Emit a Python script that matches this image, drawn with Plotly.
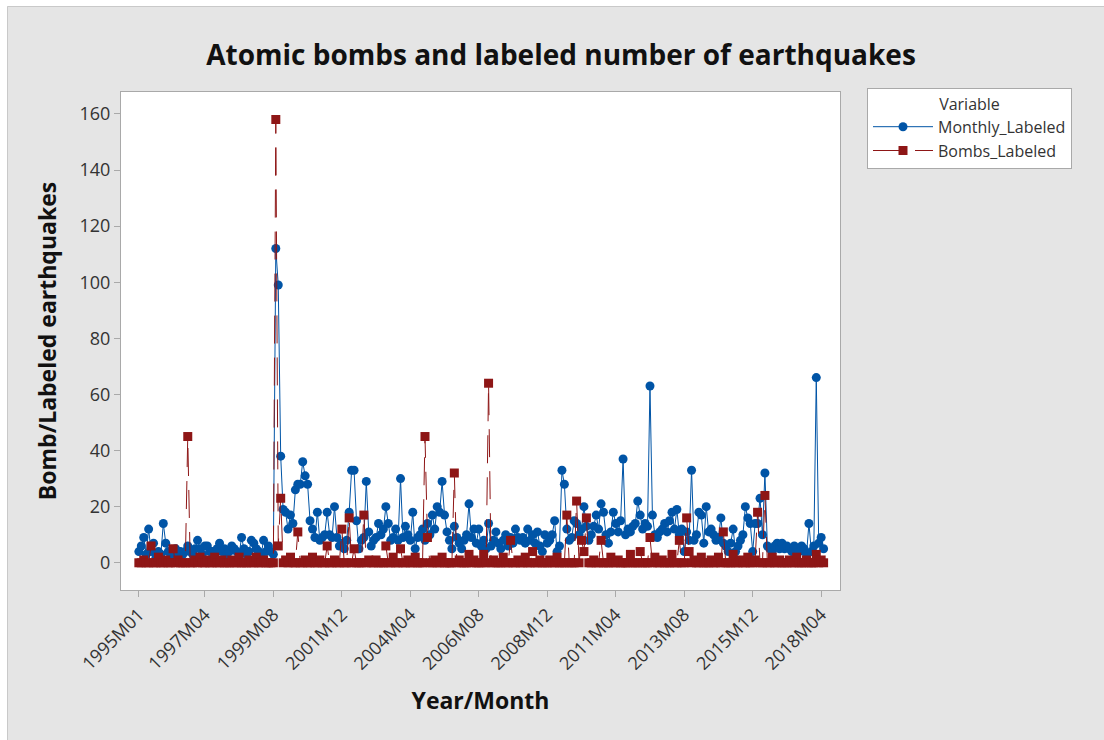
import plotly.graph_objects as go

# Month labels, 1995M01 .. 2018M05
months = [f"{y}M{m:02d}" for y in range(1995, 2019) for m in range(1, 13)][:281]

# Labeled earthquakes per month (one row per year)
monthly_labeled = [
    4, 6, 9, 3, 12, 4, 7, 2, 4, 3, 14, 7,            # 1995
    4, 2, 3, 5, 2, 4, 3, 4, 6, 4, 3, 5,              # 1996
    8, 5, 3, 6, 6, 4, 4, 3, 5, 7, 4, 5,              # 1997
    3, 4, 6, 5, 4, 3, 9, 5, 3, 4, 8, 7,              # 1998
    5, 4, 3, 8, 4, 6, 4, 3, 112, 99, 38, 19,         # 1999
    18, 12, 17, 14, 26, 28, 28, 36, 31, 28, 15, 12,  # 2000
    9, 18, 8, 9, 10, 18, 10, 9, 20, 9, 6, 7,         # 2001
    5, 8, 18, 33, 33, 15, 5, 8, 9, 29, 11, 6,        # 2002
    8, 9, 14, 10, 12, 20, 14, 8, 9, 12, 8, 30,       # 2003
    9, 13, 10, 8, 18, 5, 9, 10, 12, 8, 14, 10,       # 2004
    17, 12, 20, 18, 29, 17, 11, 8, 5, 13, 9, 7,      # 2005
    5, 8, 10, 21, 9, 12, 7, 12, 6, 8, 5, 14,         # 2006
    6, 8, 11, 7, 5, 8, 10, 6, 9, 7, 12, 9,           # 2007
    8, 9, 7, 12, 8, 10, 7, 11, 6, 4, 10, 7,          # 2008
    8, 10, 15, 4, 6, 33, 28, 12, 8, 9, 15, 14,       # 2009
    10, 12, 20, 13, 8, 10, 13, 17, 12, 21, 18, 10,   # 2010
    7, 11, 18, 14, 11, 15, 37, 10, 12, 11, 13, 14,   # 2011
    22, 17, 12, 14, 13, 63, 17, 10, 9, 11, 12, 14,   # 2012
    11, 15, 18, 12, 19, 10, 12, 4, 11, 8, 33, 8,     # 2013
    10, 18, 17, 7, 20, 11, 12, 10, 8, 9, 16, 7,      # 2014
    6, 4, 7, 12, 4, 6, 8, 10, 20, 16, 14, 4,         # 2015
    14, 14, 23, 10, 32, 6, 5, 4, 6, 7, 5, 7,         # 2016
    5, 6, 5, 4, 6, 5, 4, 6, 5, 3, 14, 4,             # 2017
    6, 66, 7, 9, 5,                                  # 2018
]

# Labeled atomic bomb events per month
bombs_labeled = [
    0, 0, 1, 0, 0, 6, 0, 0, 2, 0, 0, 1,              # 1995
    0, 0, 5, 0, 1, 0, 0, 0, 45, 0, 0, 1,             # 1996
    0, 2, 0, 0, 1, 0, 0, 2, 0, 0, 1, 0,              # 1997
    0, 0, 1, 0, 0, 2, 0, 0, 0, 1, 0, 0,              # 1998
    2, 0, 0, 1, 0, 0, 0, 0, 158, 6, 23, 0,           # 1999
    1, 0, 2, 0, 0, 11, 0, 0, 1, 0, 0, 2,             # 2000
    0, 0, 1, 0, 0, 6, 0, 0, 1, 0, 0, 12,             # 2001
    0, 0, 16, 0, 5, 0, 0, 0, 17, 0, 1, 0,            # 2002
    0, 1, 0, 0, 0, 6, 0, 0, 2, 0, 0, 5,              # 2003
    0, 0, 1, 0, 0, 2, 0, 0, 0, 45, 9, 0,             # 2004
    0, 1, 0, 0, 2, 0, 0, 0, 0, 32, 0, 1,             # 2005
    0, 0, 0, 3, 0, 1, 0, 0, 0, 3, 0, 64,             # 2006
    0, 1, 0, 0, 0, 2, 0, 0, 8, 0, 0, 1,              # 2007
    0, 0, 2, 0, 0, 4, 0, 0, 1, 0, 0, 0,              # 2008
    1, 0, 0, 2, 0, 0, 0, 17, 0, 0, 0, 22,            # 2009
    0, 8, 4, 16, 0, 0, 1, 0, 0, 8, 0, 0,             # 2010
    0, 2, 0, 0, 1, 0, 0, 0, 0, 3, 0, 0,              # 2011
    0, 4, 0, 0, 0, 9, 0, 2, 0, 0, 1, 0,              # 2012
    0, 0, 3, 0, 0, 8, 0, 0, 16, 4, 0, 1,             # 2013
    0, 0, 2, 0, 0, 0, 1, 0, 0, 2, 0, 11,             # 2014
    0, 0, 0, 3, 0, 0, 1, 0, 0, 2, 0, 0,              # 2015
    1, 18, 0, 0, 24, 0, 0, 2, 0, 0, 1, 0,            # 2016
    0, 0, 1, 0, 0, 2, 0, 0, 0, 1, 0, 0,              # 2017
    0, 3, 0, 1, 0,                                   # 2018
]

tick_labels = ["1995M01", "1997M04", "1999M08", "2001M12", "2004M04", "2006M08",
               "2008M12", "2011M04", "2013M08", "2015M12", "2018M04"]
y_ticks = [0, 20, 40, 60, 80, 100, 120, 140, 160]

BLUE = "#0054A6"
RED = "#8E1616"
FRAME = "#a9a9a9"
FONT = "Open Sans"

fig = go.Figure()
fig.add_trace(go.Scatter(
    x=months, y=monthly_labeled, name="Monthly_Labeled", mode="lines+markers",
    line=dict(color=BLUE, width=1),
    marker=dict(symbol="circle", size=9, color=BLUE, line=dict(width=0)),
))
fig.add_trace(go.Scatter(
    x=months, y=bombs_labeled, name="Bombs_Labeled", mode="lines+markers",
    line=dict(color=RED, width=1, dash="28px,14px"),
    marker=dict(symbol="square", size=9, color=RED, line=dict(width=0)),
))

# plot area in pixels: x 121..840, y 92..590
L, R, T, B = 121, 264, 92, 150
PW, PH = 1104 - L - R, 740 - T - B


def px(xp):
    return (xp - L) / PW


def py(yp):
    return (740 - B - yp) / PH


shapes = [
    # white outer rim on the top and left of the grey panel
    dict(type="rect", xref="paper", yref="paper", x0=px(-5), x1=px(7), y0=py(760), y1=py(-5),
         fillcolor="white", line=dict(width=0), layer="above"),
    dict(type="rect", xref="paper", yref="paper", x0=px(-5), x1=px(1110), y0=py(6), y1=py(-5),
         fillcolor="white", line=dict(width=0), layer="above"),
    dict(type="line", xref="paper", yref="paper", x0=px(7.5), x1=px(7.5), y0=py(760), y1=py(6.5),
         line=dict(color="#c9c9c9", width=1)),
    dict(type="line", xref="paper", yref="paper", x0=px(7.5), x1=px(1110), y0=py(6.5), y1=py(6.5),
         line=dict(color="#c9c9c9", width=1)),
]

fig.update_layout(
    width=1104, height=740, autosize=False,
    margin=dict(l=L, r=R, t=T, b=B, autoexpand=False),
    paper_bgcolor="#e5e5e5", plot_bgcolor="white",
    font=dict(family=FONT, color="#333333"),
    shapes=shapes,
    title=dict(
        text="Atomic bombs and labeled number of earthquakes",
        xref="paper", x=px(561), xanchor="center",
        yref="container", y=1 - 55 / 740, yanchor="middle",
        font=dict(family=FONT, size=28, color="#111111", weight="bold"),
    ),
    xaxis=dict(
        type="category", categoryorder="array", categoryarray=months,
        range=[-7.3, 286.7],
        tickmode="array", tickvals=tick_labels, ticktext=tick_labels, tickangle=-45,
        ticks="outside", ticklen=6, tickcolor=FRAME, tickwidth=1,
        showline=True, linecolor=FRAME, linewidth=1, mirror=True,
        showgrid=False, zeroline=False,
        tickfont=dict(family=FONT, size=18, color="#333333"),
        title=dict(text="Year/Month", standoff=19,
                   font=dict(family=FONT, size=23, color="#111111", weight="bold")),
    ),
    yaxis=dict(
        range=[-9.7, 167.8],
        tickmode="array", tickvals=y_ticks,
        ticks="outside", ticklen=6, tickcolor=FRAME, tickwidth=1,
        showline=True, linecolor=FRAME, linewidth=1, mirror=True,
        showgrid=False, zeroline=False,
        tickfont=dict(family=FONT, size=18, color="#333333"),
        title=dict(text="Bomb/Labeled earthquakes", standoff=16,
                   font=dict(family=FONT, size=23, color="#111111", weight="bold")),
    ),
    legend=dict(
        x=px(867), y=py(88), xanchor="left", yanchor="top",
        bgcolor="white", bordercolor=FRAME, borderwidth=1,
        font=dict(family=FONT, size=16, color="#333333"),
        title=dict(text="Variable", side="top center", font=dict(family=FONT, size=16, color="#333333")),
        itemwidth=60, tracegroupgap=0,
    ),
    showlegend=True,
)

fig.write_html("out.html")
